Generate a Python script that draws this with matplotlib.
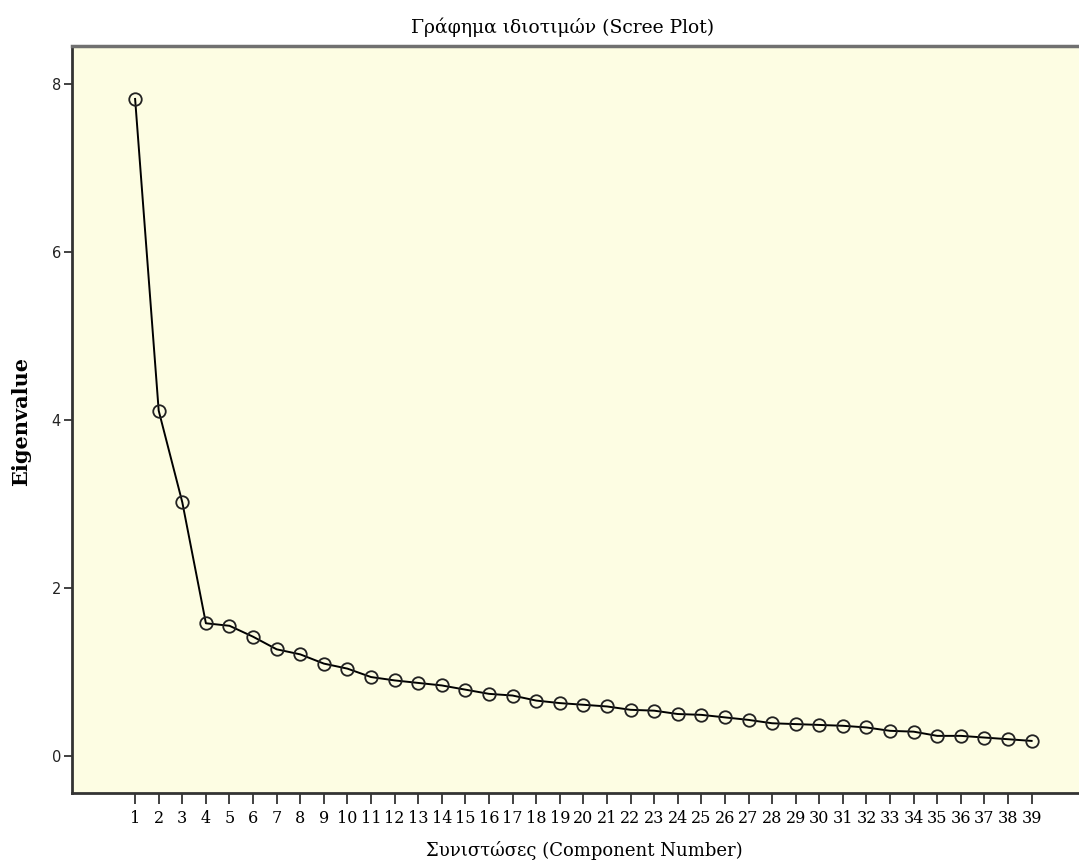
import numpy as np
import matplotlib
matplotlib.use("Agg")
import matplotlib.pyplot as plt

# eigenvalues
components = list(range(1, 40))
eigenvalues = [7.82, 4.11, 3.02, 1.58, 1.55, 1.42, 1.27, 1.21, 1.10, 1.04,
               0.94, 0.90, 0.87, 0.84, 0.79, 0.74, 0.72, 0.66, 0.63, 0.61,
               0.59, 0.55, 0.54, 0.50, 0.49, 0.46, 0.43, 0.39, 0.38, 0.37,
               0.36, 0.34, 0.30, 0.29, 0.24, 0.24, 0.22, 0.20, 0.18]
yticks = [0, 2, 4, 6, 8]

title = 'Γράφημα ιδιοτιμών (Scree Plot)'
xlabel = 'Συνιστώσες (Component Number)'
ylabel = 'Eigenvalue'

W, H = 1079, 867
fig = plt.figure(figsize=(W/100, H/100), dpi=100)
# axes box in pixels: left 72, top 46, bottom 793, runs off the right edge
ax = fig.add_axes([72/W, 1-793/H, (W-72)/W + 0.002, (793-46)/H])
ax.set_facecolor('#fdfde3')

ax.plot(components, eigenvalues, color='black', lw=1.4,
        marker='o', markersize=9, markerfacecolor='none',
        markeredgecolor='#222222', markeredgewidth=1.3)

ax.set_xlim(-1.675, 41.1)
ax.set_ylim(-0.44, 8.45)

ax.set_xticks(components)
ax.set_xticklabels([str(c) for c in components], family='DejaVu Serif', fontsize=11.5)
ax.set_yticks(yticks)
ax.set_yticklabels([str(v) for v in yticks], family='DejaVu Sans', fontsize=10.5, color='#222222')
ax.tick_params(axis='both', direction='out', width=1.3, color='#333333')
ax.tick_params(axis='x', length=8, pad=4)
ax.tick_params(axis='y', length=6, pad=2)

for s in ['left', 'bottom']:
    ax.spines[s].set_linewidth(2)
    ax.spines[s].set_color('#333333')
ax.spines['top'].set_linewidth(2.5)
ax.spines['top'].set_color('#707070')
ax.spines['right'].set_visible(False)

fig.text(563/W, 1-27/H, title, ha='center', va='center',
         family='DejaVu Serif', fontsize=13.5)
fig.text(584/W, 1-850/H, xlabel, ha='center', va='center',
         family='DejaVu Serif', fontsize=13)
fig.text(21/W, 1-421/H, ylabel, ha='center', va='center', rotation=90,
         family='DejaVu Serif', fontsize=15, fontweight='bold')

fig.savefig('out.png', dpi=100)
